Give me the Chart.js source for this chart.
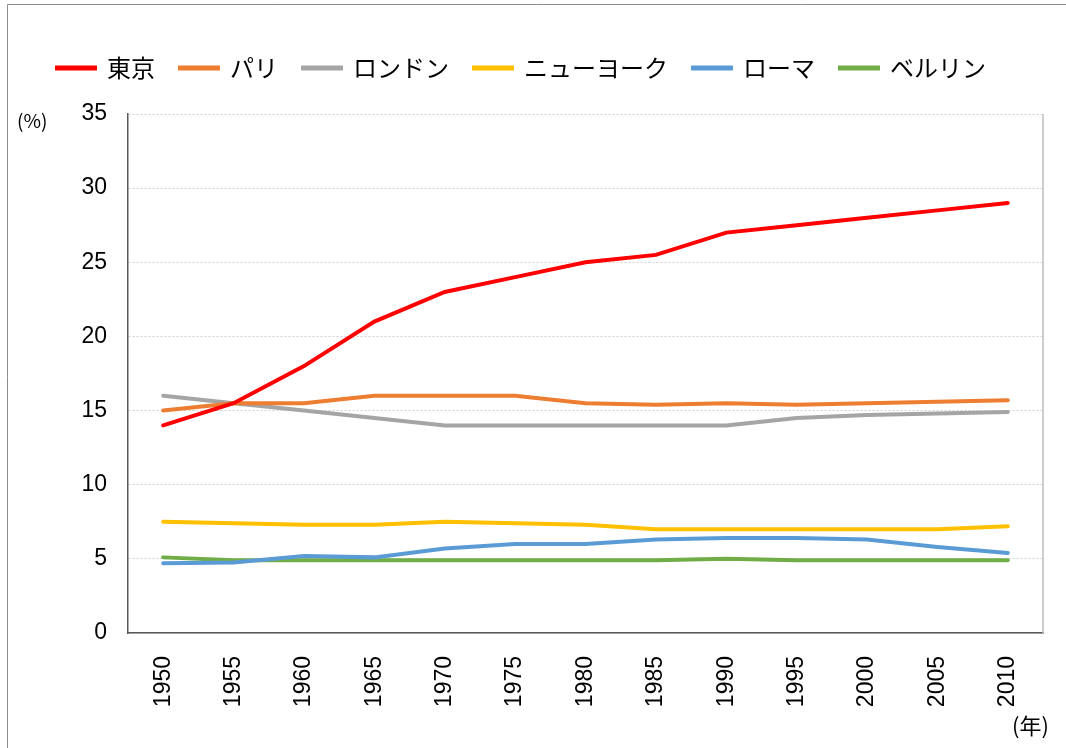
<!DOCTYPE html>
<html>
<head>
<meta charset="utf-8">
<script src="https://cdn.jsdelivr.net/npm/chart.js@4"></script>
<style>
  body { margin: 0; background: #fff; }
  #wrap { position: relative; width: 1066px; height: 748px; }
  .note { position: absolute; font-family: "Noto Sans CJK JP", sans-serif; color: #000; }
</style>
</head>
<body>
<div id="wrap">
  <canvas id="line-chart"></canvas>
  <span class="note" style="left:17px; top:106px; font-size:19px;">(%)</span>
  <span class="note" style="left:1012px; top:708px; font-size:22px;">(年)</span>
</div>
<script>
// years along the bottom
var years = ["1950","1955","1960","1965","1970","1975","1980","1985","1990","1995","2000","2005","2010"];

// share (%) per city
var tokyo  = [14.0, 15.5, 18.0, 21.0, 23.0, 24.0, 25.0, 25.5, 27.0, 27.5, 28.0, 28.5, 29.0];
var paris  = [15.0, 15.5, 15.5, 16.0, 16.0, 16.0, 15.5, 15.4, 15.5, 15.4, 15.5, 15.6, 15.7];
var london = [16.0, 15.5, 15.0, 14.5, 14.0, 14.0, 14.0, 14.0, 14.0, 14.5, 14.7, 14.8, 14.9];
var newYork = [7.5, 7.4, 7.3, 7.3, 7.5, 7.4, 7.3, 7.0, 7.0, 7.0, 7.0, 7.0, 7.2];
var rome   = [4.7, 4.75, 5.2, 5.1, 5.7, 6.0, 6.0, 6.3, 6.4, 6.4, 6.3, 5.8, 5.4];
var berlin = [5.1, 4.9, 4.9, 4.9, 4.9, 4.9, 4.9, 4.9, 5.0, 4.9, 4.9, 4.9, 4.9];

var yTicks = [0, 5, 10, 15, 20, 25, 30, 35];

function series(label, data, color) {
  return {
    label: label,
    data: data,
    borderColor: color,
    backgroundColor: color,
    borderWidth: 4,
    borderCapStyle: 'round',
    pointRadius: 0,
    fill: false,
    tension: 0
  };
}

/** outer frame + right edge of the plot, and a bit more room under the legend */
var frame = {
  id: 'frame',
  beforeLayout: function(chart) {
    var lg = chart.legend;
    if (lg && !lg._taller) {
      var fit = lg.fit;
      lg.fit = function() { fit.call(this); this.height += 24; };
      lg._taller = true;
    }
  },
  afterDraw: function(chart) {
    var c = chart.ctx, a = chart.chartArea;
    c.save();
    c.strokeStyle = '#8c8c8c';
    c.lineWidth = 1;
    c.beginPath();
    c.moveTo(7.5, 748);
    c.lineTo(7.5, 4.5);
    c.lineTo(1066, 4.5);
    c.stroke();
    c.strokeStyle = '#bfbfbf';
    c.lineWidth = 1.5;
    c.beginPath();
    c.moveTo(a.right, a.top);
    c.lineTo(a.right, a.bottom);
    c.stroke();
    c.restore();
  }
};

new Chart(document.getElementById("line-chart"), {
  type: 'line',
  data: {
    labels: years,
    datasets: [
      series("東京", tokyo, "#ff0000"),
      series("パリ", paris, "#ed7d31"),
      series("ロンドン", london, "#a5a5a5"),
      series("ニューヨーク", newYork, "#ffc000"),
      series("ローマ", rome, "#5b9bd5"),
      series("ベルリン", berlin, "#70ad47")
    ]
  },
  options: {
    responsive: true,
    maintainAspectRatio: false,
    animation: false,
    layout: { padding: { top: 31, right: 23, bottom: 0, left: 0 } },
    plugins: {
      tooltip: { enabled: false },
      legend: {
        display: true,
        position: 'top',
        labels: {
          boxWidth: 38,
          boxHeight: 1,
          padding: 25,
          color: '#000',
          font: { family: '"Noto Sans CJK JP", sans-serif', size: 24 }
        }
      }
    },
    scales: {
      x: {
        offset: true,
        grid: { display: false },
        border: { display: true, color: '#595959', width: 1.5 },
        ticks: {
          minRotation: 90,
          maxRotation: 90,
          padding: 15,
          color: '#000',
          font: { family: '"Liberation Sans", Arial, sans-serif', size: 23 }
        },
        afterFit: function(scale) { scale.height = 115; }
      },
      y: {
        min: 0,
        max: 35,
        afterBuildTicks: function(scale) {
          scale.ticks = yTicks.map(function(v) { return { value: v }; });
        },
        grid: { color: '#d0d0d0', lineWidth: 1, drawTicks: false },
        border: { display: true, color: '#595959', width: 1.5, dash: [2, 2] },
        ticks: {
          padding: 21,
          color: '#000',
          font: { family: '"Liberation Sans", Arial, sans-serif', size: 23 }
        },
        afterFit: function(scale) { scale.width = 128; }
      }
    }
  },
  plugins: [frame]
});
</script>
</body>
</html>
